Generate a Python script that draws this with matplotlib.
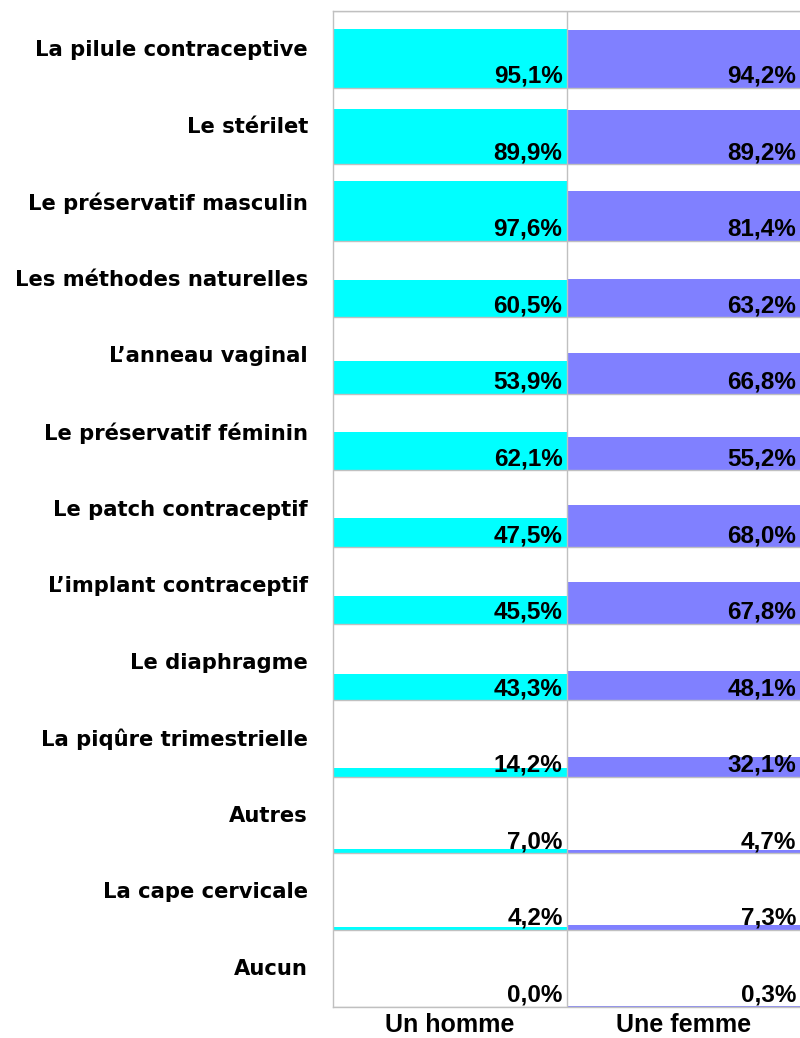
import matplotlib
matplotlib.use("Agg")
import matplotlib.pyplot as plt
import matplotlib.transforms as mtransforms

categories = [
    "La pilule contraceptive",
    "Le stérilet",
    "Le préservatif masculin",
    "Les méthodes naturelles",
    "L\u2019anneau vaginal",
    "Le préservatif féminin",
    "Le patch contraceptif",
    "L\u2019implant contraceptif",
    "Le diaphragme",
    "La piqûre trimestrielle",
    "Autres",
    "La cape cervicale",
    "Aucun",
]
homme = [95.1, 89.9, 97.6, 60.5, 53.9, 62.1, 47.5, 45.5, 43.3, 14.2, 7.0, 4.2, 0.0]
femme = [94.2, 89.2, 81.4, 63.2, 66.8, 55.2, 68.0, 67.8, 48.1, 32.1, 4.7, 7.3, 0.3]
groups = ["Un homme", "Une femme"]

row_h = 125.0  # each row spans 0..125 (percent units)
colors = ["#00FFFF", "#8080FF"]
grid_c = "#C0C0C0"

fig = plt.figure(figsize=(8.0, 10.38), dpi=100)
ax = fig.add_axes([333 / 800, 1 - 1006.5 / 1038, 1 - 333 / 800, (1006.5 - 11) / 1038])

n = len(categories)
bases = [(n - 1 - i) * row_h for i in range(n)]

for j, series in enumerate([homme, femme]):
    ax.bar([j + 0.5] * n, series, width=1.0, bottom=bases, color=colors[j],
           edgecolor="none", zorder=1)
    for b, v in zip(bases, series):
        off = mtransforms.offset_copy(ax.transData, fig=fig, x=-4, y=5, units="dots")
        ax.text(j + 1, b, f"{v:.1f}%".replace(".", ","), transform=off,
                ha="right", va="baseline", fontsize=17.5, fontweight="bold",
                family="Liberation Sans", zorder=3)

for k in range(n + 1):
    ax.axhline(k * row_h, color=grid_c, lw=1, zorder=2)
ax.axvline(1, color=grid_c, lw=1, zorder=2)

ax.set_xlim(0, 2)
ax.set_ylim(0, n * row_h)

ax.set_yticks([b + row_h / 2 + 2 for b in bases])
ax.set_yticklabels(categories, fontsize=15.2, fontweight="bold", family="DejaVu Sans")
ax.set_xticks([0.5, 1.5])
ax.set_xticklabels(groups, fontsize=18, fontweight="bold", family="Liberation Sans")
ax.tick_params(axis="y", length=0, pad=18)
ax.tick_params(axis="x", length=0, pad=5)

for s in ["top", "left", "bottom"]:
    ax.spines[s].set_color(grid_c)
    ax.spines[s].set_linewidth(1)
ax.spines["right"].set_visible(False)

fig.savefig("out.png", dpi=100)
